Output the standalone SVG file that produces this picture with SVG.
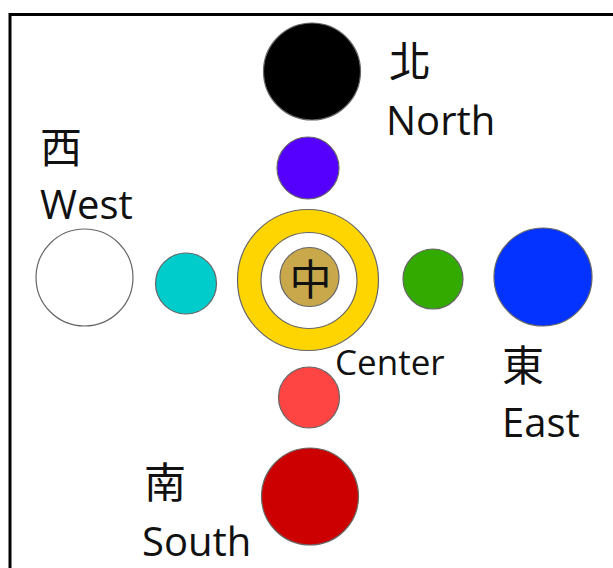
<svg xmlns="http://www.w3.org/2000/svg" width="613" height="568" viewBox="0 0 613 568">
<style>
.c{stroke:#666;stroke-width:1.2}
.en{font-family:"Open Sans","Noto Sans",sans-serif;font-size:40px;fill:#111}
.zh{font-family:"Noto Sans CJK TC","Noto Sans CJK JP",sans-serif;font-size:42px;fill:#111}
</style>
<rect x="0" y="0" width="613" height="568" fill="#fff"/>
<rect x="10" y="14.5" width="800" height="800" fill="none" stroke="#000" stroke-width="3"/>
<g id="north">
<circle class="c" cx="312" cy="71.5" r="48.5" fill="#000"/>
<text class="zh" x="389" y="77">北</text>
<text class="en" x="386" y="135">North</text>
</g>
<g id="north-inner"><circle class="c" cx="308" cy="168" r="31" fill="#5500ff"/></g>
<g id="west">
<circle class="c" cx="84.5" cy="277.5" r="48.5" fill="#fff"/>
<text class="zh" x="40" y="163">西</text>
<text class="en" x="40" y="219">West</text>
</g>
<g id="west-inner"><circle class="c" cx="186" cy="283.5" r="30.5" fill="#00cccc"/></g>
<g id="center">
<circle class="c" cx="308" cy="280" r="70.5" fill="#ffd500"/>
<circle class="c" cx="309" cy="280.5" r="48" fill="#fff"/>
<circle class="c" cx="309.5" cy="277" r="29.5" fill="#c8a84b"/>
<text class="zh" x="310.5" y="295" text-anchor="middle">中</text>
<text class="en" x="335" y="375" style="font-size:35px">Center</text>
</g>
<g id="east-inner"><circle class="c" cx="433" cy="279" r="30" fill="#33aa00"/></g>
<g id="east">
<circle class="c" cx="543" cy="277" r="49" fill="#0433ff"/>
<text class="zh" x="502" y="381">東</text>
<text class="en" x="502" y="437">East</text>
</g>
<g id="south-inner"><circle class="c" cx="309" cy="397.5" r="30.5" fill="#ff4444"/></g>
<g id="south">
<circle class="c" cx="310" cy="496.5" r="48.5" fill="#cc0000"/>
<text class="zh" x="144" y="498">南</text>
<text class="en" x="142" y="556">South</text>
</g>
<g id="connectors"></g>
</svg>
